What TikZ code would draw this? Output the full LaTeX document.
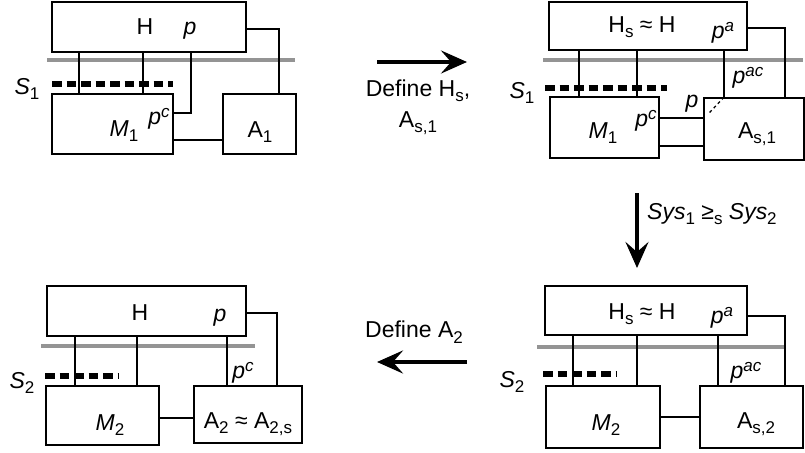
\documentclass[tikz,border=0pt]{standalone}
\usepackage{fontspec}
\setmainfont{Liberation Sans}
\usetikzlibrary{arrows.meta,positioning,calc}

\newcommand{\lo}[1]{\raisebox{-0.45ex}{\fontsize{17}{17}\selectfont #1}}
\newcommand{\hi}[1]{\raisebox{0.6ex}{\fontsize{17}{17}\selectfont\itshape #1}}

\begin{document}
\begin{tikzpicture}[x=1pt, y=-1pt,
    every node/.style={font=\fontsize{23}{27}\selectfont, inner sep=0pt},
    box/.style={draw, line width=1.6pt, fill=white},
    wire/.style={line width=1.3pt},
    cut/.style={line width=3.5pt, black!42},
    sep/.style={line width=6pt, dash pattern=on 9.5pt off 5pt},
    arr/.style={-{Stealth[length=26pt, width=23pt, inset=10pt]}, line width=3.5pt}
]
\useasboundingbox (0,0) rectangle (805,452);

% top left
\node[box, minimum width=194pt, minimum height=50pt] (h1) at (149,27) {};
\node[box, minimum width=121pt, minimum height=60pt] (m1) at (112.5,124) {};
\node[box, minimum width=73pt, minimum height=60pt] (a1) at (259.5,124) {};
\draw[cut] (47,60) -- (295,60);
\draw[sep] (52,84) -- (173,84);
\draw[wire] (79,0 |- h1.south) -- (79,0 |- m1.north);
\draw[wire] (143,0 |- h1.south) -- (143,0 |- m1.north);
\draw[wire] (191,0 |- h1.south) |- (m1.east |- 0,113);
\draw[wire] (h1.east |- 0,29) -| (279,0 |- a1.north);
\draw[wire] (m1.east |- 0,140) -- (a1.west |- 0,140);
\node (lh1) at (145,27) {H};
\node (lp1) at (190,31) {\textit{p}};
\node (lm1) at (124,131) {\textit{M}\lo{1}};
\node (lpc1) at (159,119) {\textit{p}\hi{c}};
\node (la1) at (260,132) {A\lo{1}};
\node (ls1) at (27,89) {\textit{S}\lo{1}};

% top right
\node[box, minimum width=198pt, minimum height=48pt] (h2) at (648,26) {};
\node[box, minimum width=109pt, minimum height=61pt] (m2) at (604.5,127.5) {};
\node[box, minimum width=100pt, minimum height=62pt] (a2) at (754,129) {};
\draw[cut] (543,60) -- (803,60);
\draw[sep] (545,88) -- (667,88);
\draw[wire] (579,0 |- h2.south) -- (579,0 |- m2.north);
\draw[wire] (637,0 |- h2.south) -- (637,0 |- m2.north);
\draw[wire] (724,0 |- h2.south) -- (724,0 |- a2.north);
\draw[wire, dashed] (724,0 |- a2.north) -- ++(-16,17);
\draw[wire] (h2.east |- 0,28) -| (785,0 |- a2.north);
\draw[wire] (m2.east |- 0,118) -- (a2.west |- 0,118);
\draw[wire] (m2.east |- 0,146) -- (a2.west |- 0,146);
\node (lh2) at (642,27) {H\lo{s} ≈ H};
\node (lp2) at (723,33) {\textit{p}\hi{a}};
\node (lpac2) at (748,78) {\textit{p}\hi{ac}};
\node (lpp2) at (692,104) {\textit{p}};
\node (lm2) at (603,133) {\textit{M}\lo{1}};
\node (lpc2) at (646,121) {\textit{p}\hi{c}};
\node (la2) at (757,134) {A\lo{s,1}};
\node (ls2) at (522,93) {\textit{S}\lo{1}};

% bottom left
\node[box, minimum width=199pt, minimum height=50pt] (h3) at (146.5,311) {};
\node[box, minimum width=113pt, minimum height=59pt] (m3) at (102.5,415.5) {};
\node[box, minimum width=108pt, minimum height=57pt] (a3) at (248,414.5) {};
\draw[cut] (41,346) -- (255,346);
\draw[sep] (45,376) -- (119,376);
\draw[wire] (75,0 |- h3.south) -- (75,0 |- m3.north);
\draw[wire] (137,0 |- h3.south) -- (137,0 |- m3.north);
\draw[wire] (227,0 |- h3.south) -- (227,0 |- a3.north);
\draw[wire] (h3.east |- 0,313) -| (277,0 |- a3.north);
\draw[wire] (m3.east |- 0,418) -- (a3.west |- 0,418);
\node (lh3) at (140,313) {H};
\node (lp3) at (220,318) {\textit{p}};
\node (lpc3) at (243,373) {\textit{p}\hi{c}};
\node (lm3) at (110,425) {\textit{M}\lo{2}};
\node (la3) at (248,424) {A\lo{2} ≈ A\lo{2,s}};
\node (ls3) at (22,383) {\textit{S}\lo{2}};

% bottom right
\node[box, minimum width=202pt, minimum height=49pt] (h4) at (646,310.5) {};
\node[box, minimum width=114pt, minimum height=62pt] (m4) at (603,417) {};
\node[box, minimum width=103pt, minimum height=62pt] (a4) at (751.5,417) {};
\draw[cut] (537,347) -- (785,347);
\draw[sep] (543,374) -- (617,374);
\draw[wire] (573,0 |- h4.south) -- (573,0 |- m4.north);
\draw[wire] (637,0 |- h4.south) -- (637,0 |- m4.north);
\draw[wire] (718,0 |- h4.south) -- (718,0 |- a4.north);
\draw[wire] (h4.east |- 0,316) -| (785,0 |- a4.north);
\draw[wire] (m4.east |- 0,417) -- (a4.west |- 0,417);
\node (lh4) at (642,314) {H\lo{s} ≈ H};
\node (lp4) at (722,318) {\textit{p}\hi{a}};
\node (lpac4) at (746,373) {\textit{p}\hi{ac}};
\node (lm4) at (606,425) {\textit{M}\lo{2}};
\node (la4) at (756,424) {A\lo{s,2}};
\node (ls4) at (512,382) {\textit{S}\lo{2}};

% steps
\coordinate (s1a) at (377,62);
\coordinate (s1b) at (467,62);
\coordinate (s2a) at (637,193);
\coordinate (s2b) at (637,268);
\coordinate (s3a) at (467,362);
\coordinate (s3b) at (377,362);
\draw[arr] (s1a) -- (s1b);
\draw[arr] (s2a) -- (s2b);
\draw[arr] (s3a) -- (s3b);
\node[align=center] (t1) at (418,107) {Define H\lo{s},\\[4pt]A\lo{s,1}};
\node[anchor=west] (t2) at (647,214) {\textit{Sys}\lo{1} ≥\lo{s} \textit{Sys}\lo{2}};
\node (t3) at (414,332) {Define A\lo{2}};
\end{tikzpicture}
\end{document}
